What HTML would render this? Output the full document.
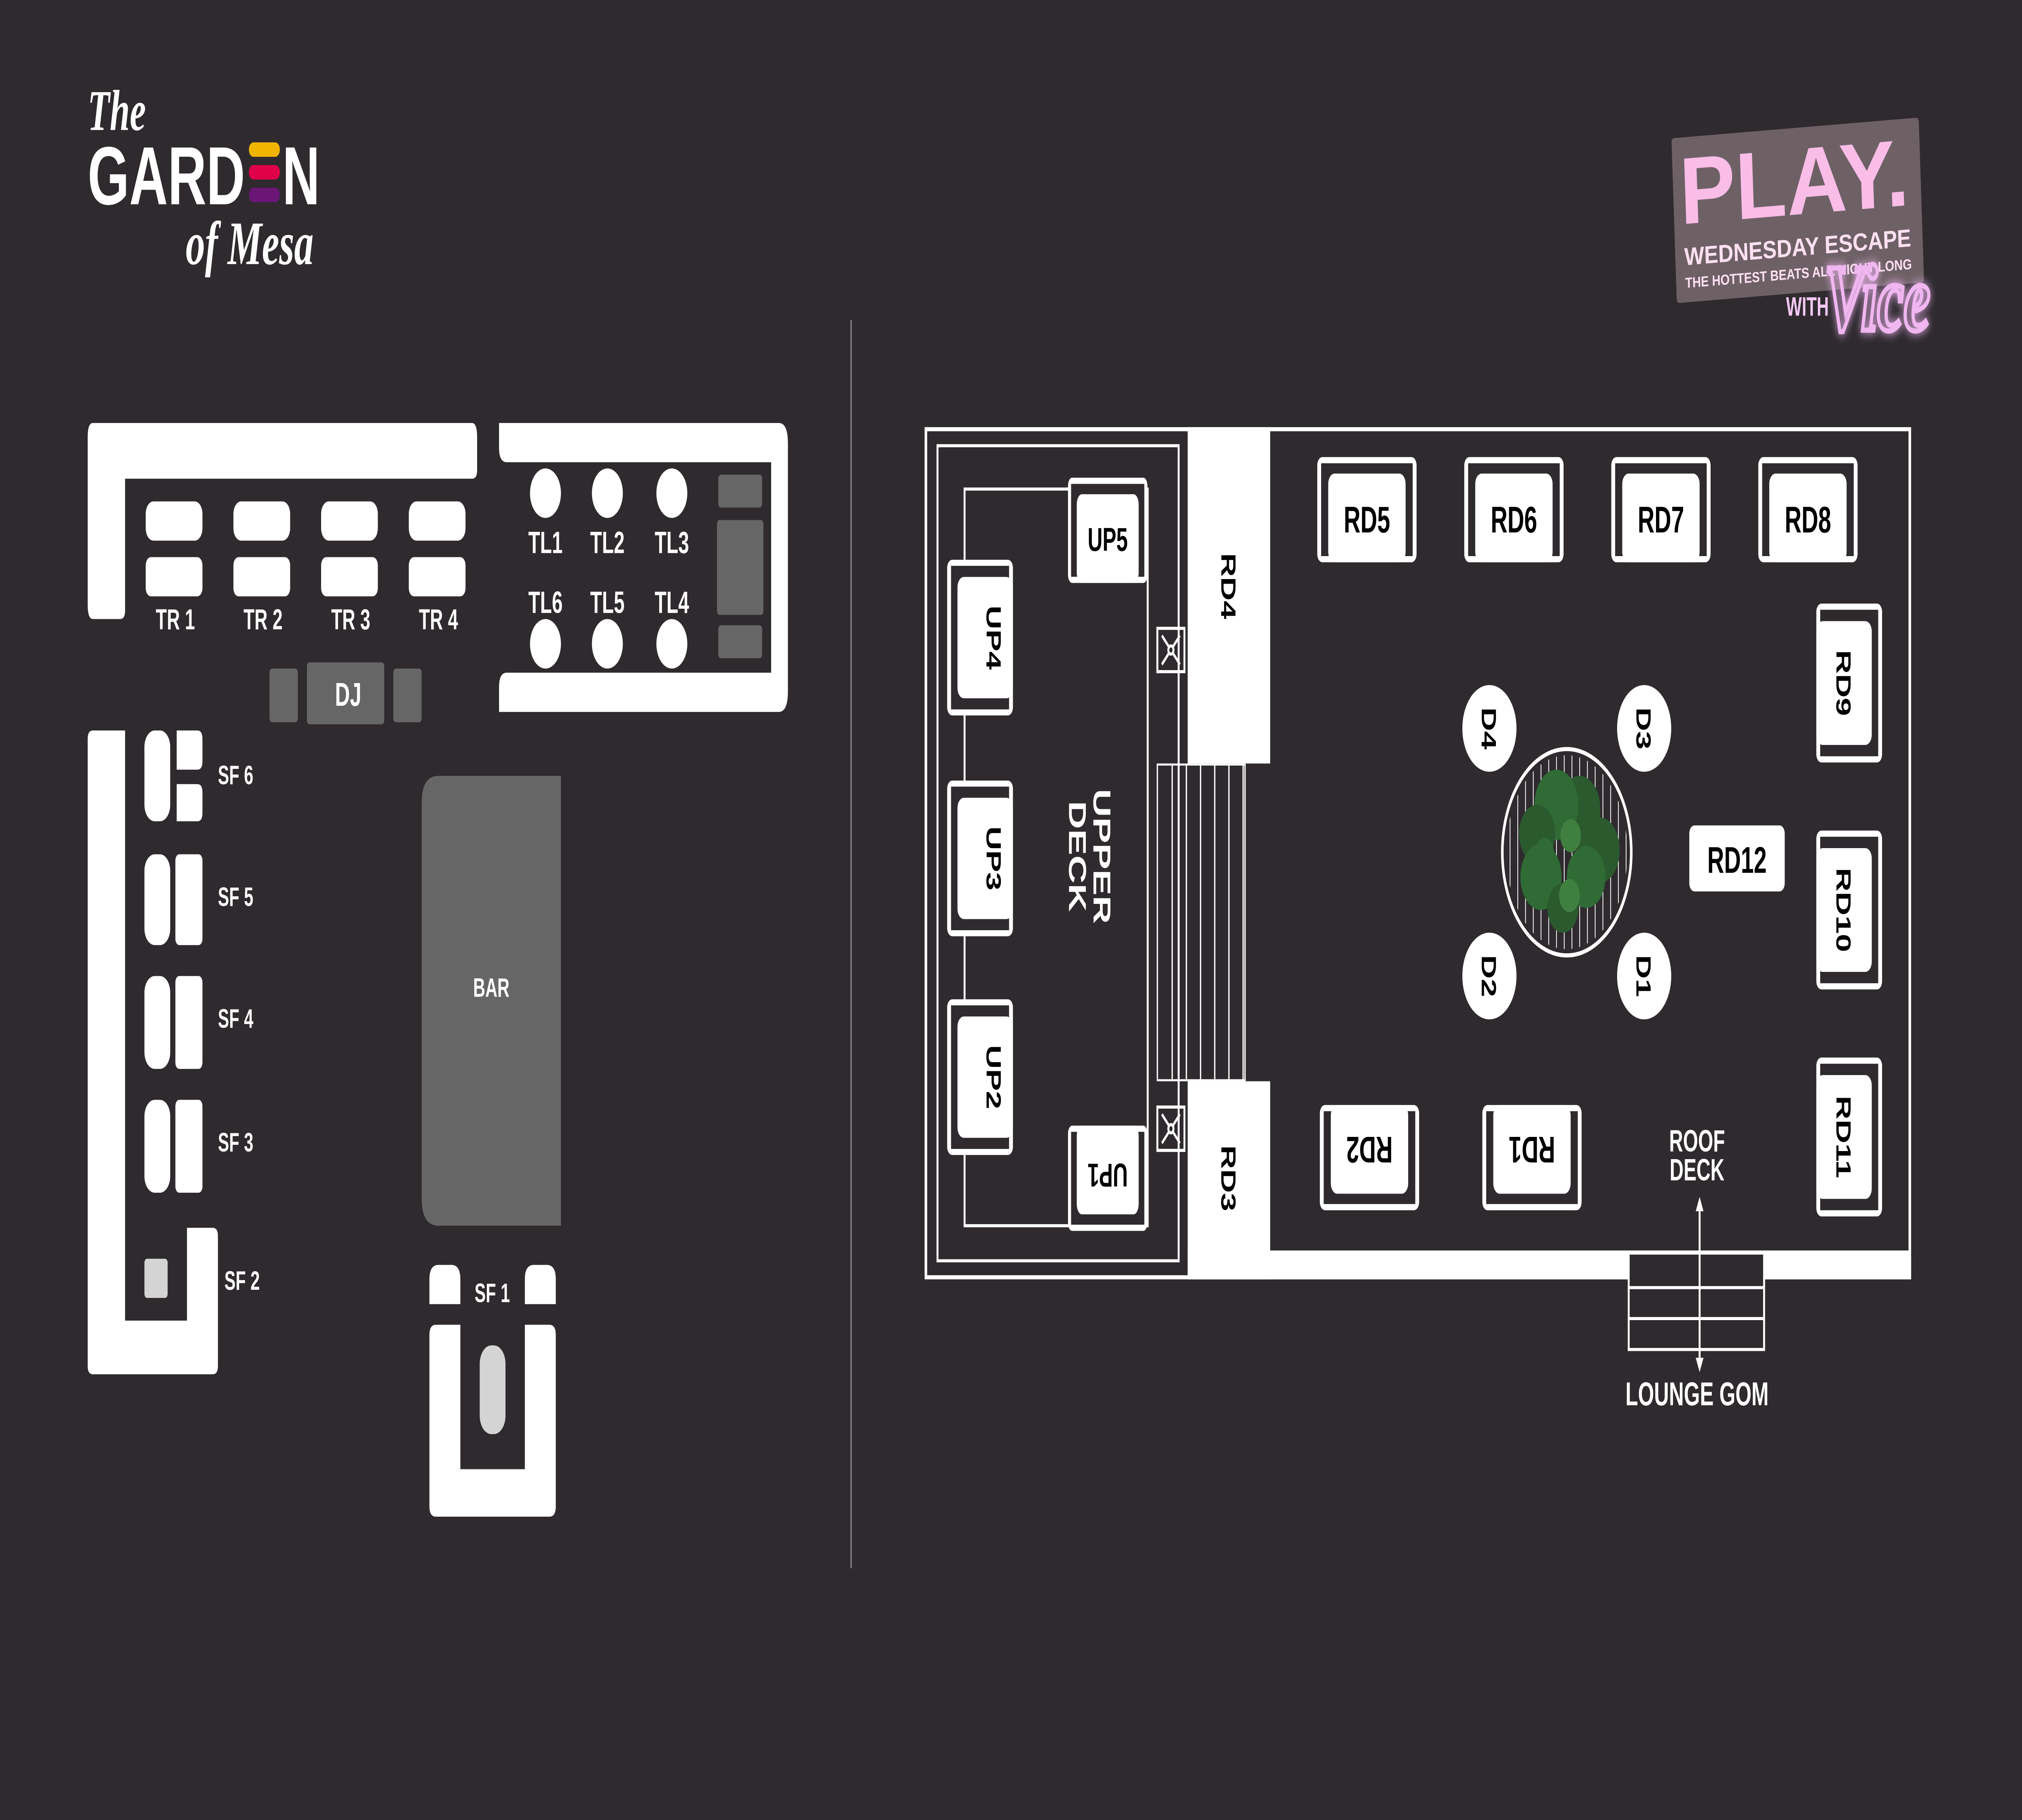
<!DOCTYPE html>
<html><head><meta charset="utf-8"><style>
html,body{margin:0;padding:0;background:#2e2a2e;width:100%;height:100%;overflow:hidden;}
svg{display:block;width:100vw;height:100vh;}
text{font-family:"Liberation Sans Narrow","Liberation Sans",sans-serif;font-weight:bold;}
.w{fill:#fff;}
.k{fill:#000;}
.wide{font-family:"Liberation Sans",sans-serif;}
</style></head><body>
<svg viewBox="0 0 1568 882" preserveAspectRatio="none" xmlns="http://www.w3.org/2000/svg">
<defs>
<g id="seat">
<rect x="-38.5" y="-25.5" width="77" height="51" rx="4" fill="#fff"/>
<rect x="-35.5" y="-22.5" width="71" height="45" fill="#2e2a2e"/>
<rect x="-30" y="-17.5" width="60" height="43" rx="5" fill="#fff"/>
</g>
<clipPath id="treeclip"><circle cx="1215" cy="413" r="47"/></clipPath>
<filter id="glow" x="-30%" y="-30%" width="160%" height="160%"><feGaussianBlur stdDeviation="2.5" result="b"/><feMerge><feMergeNode in="b"/><feMergeNode in="SourceGraphic"/></feMerge></filter>
</defs>
<rect width="1568" height="882" fill="#2e2a2e"/>

<!-- Garden logo -->
<text x="68" y="63" class="w" style="font-family:'Liberation Serif',serif;font-style:italic;font-size:28px">The</text>
<text x="68" y="99" class="w" style="font-family:'Liberation Sans',sans-serif;font-size:40px" textLength="122" lengthAdjust="spacingAndGlyphs">GARD</text>
<rect x="193" y="69" width="24" height="7" rx="3.5" fill="#f0b400"/>
<rect x="193" y="80" width="24" height="7" rx="3.5" fill="#e0004a"/>
<rect x="193" y="91" width="24" height="7" rx="3.5" fill="#6b1577"/>
<text x="219" y="99" class="w" style="font-family:'Liberation Sans',sans-serif;font-size:40px" textLength="29" lengthAdjust="spacingAndGlyphs">N</text>
<text x="144" y="128" class="w" style="font-family:'Liberation Serif',serif;font-style:italic;font-size:30px">of Mesa</text>

<!-- PLAY badge -->
<g transform="rotate(-3 1393 100)">
<rect x="1298" y="62" width="192" height="80" rx="2" fill="#6e6166"/>
<text x="1303" y="104" style="font-family:'Liberation Sans',sans-serif;font-weight:bold;font-size:46px;fill:#f9bde7" textLength="178" lengthAdjust="spacingAndGlyphs">PLAY.</text>
<text x="1305" y="124" style="font-family:'Liberation Sans',sans-serif;font-weight:bold;font-size:12px;fill:#ffe0f2" textLength="176" lengthAdjust="spacingAndGlyphs">WEDNESDAY ESCAPE</text>
<text x="1305" y="135" style="font-family:'Liberation Sans',sans-serif;font-weight:bold;font-size:7px;fill:#ffe0f2" textLength="176" lengthAdjust="spacingAndGlyphs">THE HOTTEST BEATS ALL NIGHT LONG</text>
</g>
<text x="1385" y="153" style="font-size:13px;fill:#f3c8f2">WITH</text>
<text x="1415" y="160" filter="url(#glow)" style="font-family:'Liberation Serif',serif;font-style:italic;font-size:46px;fill:none;stroke:#f0b6f0;stroke-width:2.5">Vice</text>

<!-- Divider -->
<line x1="660" y1="155" x2="660" y2="760" stroke="#8a8589" stroke-width="1"/>

<!-- Left: TR block -->
<path d="M72,205 H366 Q370,205 370,212 V228 Q370,232 366,232 H97 V296 Q97,300 93,300 H72 Q68,300 68,293 V212 Q68,205 72,205 Z" fill="#fff"/>
<g fill="#fff">
<rect x="113" y="243" width="44" height="19" rx="6"/><rect x="113" y="270" width="44" height="19" rx="4"/>
<rect x="181" y="243" width="44" height="19" rx="6"/><rect x="181" y="270" width="44" height="19" rx="4"/>
<rect x="249" y="243" width="44" height="19" rx="6"/><rect x="249" y="270" width="44" height="19" rx="4"/>
<rect x="317" y="243" width="44" height="19" rx="6"/><rect x="317" y="270" width="44" height="19" rx="4"/>
</g>
<g class="w" font-size="14" text-anchor="middle">
<text x="136" y="305">TR 1</text><text x="204" y="305">TR 2</text><text x="272" y="305">TR 3</text><text x="340" y="305">TR 4</text>
</g>
<!-- TL block -->
<path d="M393,205 H604 Q611,205 611,215 V335 Q611,345 604,345 H387 V333 Q387,326 393,326 H598 V224 H393 Q387,224 387,217 V205 Z" fill="#fff"/>
<g fill="#fff">
<ellipse cx="423" cy="239" rx="12" ry="12"/><ellipse cx="471" cy="239" rx="12" ry="12"/><ellipse cx="521" cy="239" rx="12" ry="12"/>
<ellipse cx="423" cy="312" rx="12" ry="12"/><ellipse cx="471" cy="312" rx="12" ry="12"/><ellipse cx="521" cy="312" rx="12" ry="12"/>
</g>
<g class="w" font-size="15" text-anchor="middle">
<text x="423" y="268">TL1</text><text x="471" y="268">TL2</text><text x="521" y="268">TL3</text>
<text x="423" y="297">TL6</text><text x="471" y="297">TL5</text><text x="521" y="297">TL4</text>
</g>
<g fill="#666">
<rect x="557" y="230" width="34" height="16" rx="2"/>
<rect x="556" y="252" width="36" height="46" rx="2"/>
<rect x="557" y="303" width="34" height="16" rx="2"/>
<rect x="209" y="324" width="22" height="26" rx="2"/>
<rect x="238" y="321" width="60" height="30" rx="2"/>
<rect x="305" y="324" width="22" height="26" rx="2"/>
</g>
<text x="270" y="342" class="w" font-size="16" text-anchor="middle">DJ</text>

<!-- SF column -->
<path d="M72,354 H97 V640 H145 V595 H165 Q169,595 169,599 V662 Q169,666 165,666 H72 Q68,666 68,662 V358 Q68,354 72,354 Z" fill="#fff"/>
<g fill="#fff">
<rect x="112" y="354" width="20" height="44" rx="8"/>
<path d="M137,354 H153 Q157,354 157,358 V369 Q157,373 153,373 H137 Z"/>
<path d="M137,380 H153 Q157,380 157,384 V394 Q157,398 153,398 H137 Z"/>
<rect x="112" y="414" width="20" height="44" rx="8"/><rect x="136" y="414" width="21" height="44" rx="3"/>
<rect x="112" y="473" width="20" height="45" rx="8"/><rect x="136" y="473" width="21" height="45" rx="3"/>
<rect x="112" y="533" width="20" height="45" rx="8"/><rect x="136" y="533" width="21" height="45" rx="3"/>
</g>
<rect x="112" y="610" width="18" height="19" rx="2" fill="#d4d4d4"/>
<g class="w wide" font-size="13">
<text x="169" y="380">SF 6</text><text x="169" y="439">SF 5</text><text x="169" y="498">SF 4</text><text x="169" y="558">SF 3</text><text x="174" y="625">SF 2</text>
<text x="368" y="631">SF 1</text>
</g>
<!-- BAR -->
<path d="M340,376 H435 V594 H340 Q327,594 327,581 V389 Q327,376 340,376 Z" fill="#666"/>
<text x="381" y="483" class="w wide" font-size="13" text-anchor="middle">BAR</text>
<!-- SF1 -->
<g fill="#fff">
<path d="M333,632 V620 Q333,613 340,613 H350 Q357,613 357,620 V632 Z"/>
<path d="M407,632 V620 Q407,613 414,613 H424 Q431,613 431,620 V632 Z"/>
<path d="M338,642 H357 V712 H407 V642 H426 Q431,642 431,647 V730 Q431,735 426,735 H338 Q333,735 333,730 V647 Q333,642 338,642 Z"/>
</g>
<rect x="372" y="652" width="20" height="43" rx="9" fill="#d4d4d4"/>

<!-- Right plan -->
<rect x="718" y="208" width="763" height="411" fill="none" stroke="#fff" stroke-width="2"/>
<rect x="727" y="216" width="187" height="395" fill="none" stroke="#fff" stroke-width="1.5"/>
<rect x="748" y="237" width="142" height="357" fill="none" stroke="#fff" stroke-width="1.5"/>
<rect x="921" y="207" width="64" height="163" fill="#fff"/>
<rect x="921" y="524" width="64" height="96" fill="#fff"/>
<rect x="921" y="606" width="561" height="14" fill="#fff"/>
<!-- stairs -->
<g stroke="#fff" stroke-width="1" fill="none">
<rect x="897.5" y="370.5" width="68" height="153"/>
<line x1="909" y1="370" x2="909" y2="524"/><line x1="920" y1="370" x2="920" y2="524"/>
<line x1="931" y1="370" x2="931" y2="524"/><line x1="942" y1="370" x2="942" y2="524"/>
<line x1="953" y1="370" x2="953" y2="524"/><line x1="964" y1="370" x2="964" y2="524"/>
</g>
<!-- crossed boxes -->
<g stroke="#fff" stroke-width="1.5" fill="none">
<rect x="897.5" y="304.5" width="21" height="21"/><path d="M901,308 L915,322 M915,308 L901,322"/><circle cx="908" cy="315" r="2" fill="#2e2a2e"/>
<rect x="897.5" y="536.5" width="21" height="21"/><path d="M901,540 L915,554 M915,540 L901,554"/><circle cx="908" cy="547" r="2" fill="#2e2a2e"/>
</g>
<!-- UP seats -->
<use href="#seat" transform="translate(859,257) scale(0.8,1)"/>
<use href="#seat" transform="translate(760,309) rotate(-90) scale(0.98,1)"/>
<use href="#seat" transform="translate(760,416) rotate(-90) scale(0.98,1)"/>
<use href="#seat" transform="translate(760,522) rotate(-90) scale(0.98,1)"/>
<use href="#seat" transform="translate(859,571) rotate(180) scale(0.8,1)"/>
<g class="k wide" font-size="16" text-anchor="middle">
<text x="859" y="267">UP5</text>
<text transform="translate(765,309) rotate(90)">UP4</text>
<text transform="translate(765,416) rotate(90)">UP3</text>
<text transform="translate(765,522) rotate(90)">UP2</text>
<text transform="translate(859,564) rotate(180)">UP1</text>
<text transform="translate(947,284) rotate(90)">RD4</text>
<text transform="translate(947,571) rotate(90)">RD3</text>
</g>
<text transform="translate(848,415) rotate(90)" class="w wide" font-size="19" text-anchor="middle"><tspan x="0" y="0">UPPER</tspan><tspan x="0" y="19">DECK</tspan></text>

<!-- RD seats -->
<use href="#seat" transform="translate(1060,247)"/>
<use href="#seat" transform="translate(1174,247)"/>
<use href="#seat" transform="translate(1288,247)"/>
<use href="#seat" transform="translate(1402,247)"/>
<use href="#seat" transform="translate(1434,331) rotate(90)"/>
<use href="#seat" transform="translate(1434,441) rotate(90)"/>
<use href="#seat" transform="translate(1434,551) rotate(90)"/>
<use href="#seat" transform="translate(1062,561) rotate(180)"/>
<use href="#seat" transform="translate(1188,561) rotate(180)"/>
<g class="k" font-size="18" text-anchor="middle">
<text x="1060" y="258">RD5</text><text x="1174" y="258">RD6</text><text x="1288" y="258">RD7</text><text x="1402" y="258">RD8</text>
<text transform="translate(1062,551) rotate(180)">RD2</text>
<text transform="translate(1188,551) rotate(180)">RD1</text>
</g>
<g class="k wide" font-size="16" text-anchor="middle">
<text transform="translate(1424,331) rotate(90)">RD9</text>
<text transform="translate(1424,441) rotate(90)">RD10</text>
<text transform="translate(1424,551) rotate(90)">RD11</text>
</g>
<rect x="1310" y="400" width="74" height="32" rx="4" fill="#fff"/>
<text x="1347" y="423" class="k" font-size="18" text-anchor="middle">RD12</text>

<!-- D circles -->
<g fill="#fff">
<ellipse cx="1155" cy="353" rx="21" ry="21"/><ellipse cx="1275" cy="353" rx="21" ry="21"/>
<ellipse cx="1155" cy="473" rx="21" ry="21"/><ellipse cx="1275" cy="473" rx="21" ry="21"/>
</g>
<g class="k wide" font-size="16" text-anchor="middle">
<text transform="translate(1149,353) rotate(90)">D4</text>
<text transform="translate(1269,353) rotate(90)">D3</text>
<text transform="translate(1149,473) rotate(90)">D2</text>
<text transform="translate(1269,473) rotate(90)">D1</text>
</g>
<!-- tree -->
<circle cx="1215" cy="413" r="50" fill="none" stroke="#fff" stroke-width="2"/>
<g clip-path="url(#treeclip)" stroke="#fff" stroke-width="0.6">
<line x1="1171" y1="360" x2="1171" y2="466"/><line x1="1177" y1="360" x2="1177" y2="466"/><line x1="1183" y1="360" x2="1183" y2="466"/>
<line x1="1189" y1="360" x2="1189" y2="466"/><line x1="1195" y1="360" x2="1195" y2="466"/><line x1="1201" y1="360" x2="1201" y2="466"/>
<line x1="1207" y1="360" x2="1207" y2="466"/><line x1="1213" y1="360" x2="1213" y2="466"/><line x1="1219" y1="360" x2="1219" y2="466"/>
<line x1="1225" y1="360" x2="1225" y2="466"/><line x1="1231" y1="360" x2="1231" y2="466"/><line x1="1237" y1="360" x2="1237" y2="466"/>
<line x1="1243" y1="360" x2="1243" y2="466"/><line x1="1249" y1="360" x2="1249" y2="466"/><line x1="1255" y1="360" x2="1255" y2="466"/>
<line x1="1261" y1="360" x2="1261" y2="466"/>
</g>
<g>
<circle cx="1225" cy="392" r="16" fill="#2a5a2e"/>
<circle cx="1207" cy="390" r="17" fill="#306b35"/>
<circle cx="1192" cy="404" r="14" fill="#2a5a2e"/>
<circle cx="1240" cy="412" r="16" fill="#2a5a2e"/>
<circle cx="1195" cy="425" r="16" fill="#306b35"/>
<circle cx="1230" cy="425" r="15" fill="#306b35"/>
<circle cx="1212" cy="440" r="12" fill="#2a5a2e"/>
<circle cx="1218" cy="405" r="8" fill="#3f8040"/>
<circle cx="1217" cy="434" r="8" fill="#3f8040"/>
<circle cx="1198" cy="413" r="7" fill="#306b35"/>
</g>

<!-- Roof deck / stairs to lounge -->
<text x="1316" y="558" class="w" font-size="15" text-anchor="middle">ROOF</text>
<text x="1316" y="572" class="w" font-size="15" text-anchor="middle">DECK</text>
<rect x="1263" y="608" width="105" height="16" fill="#2e2a2e"/>
<g stroke="#fff" stroke-width="1.5" fill="none">
<path d="M1263,608 V654 H1368 V608"/>
<line x1="1263" y1="624" x2="1368" y2="624"/>
<line x1="1263" y1="639" x2="1368" y2="639"/>
<line x1="1318" y1="584" x2="1318" y2="662"/>
</g>
<path d="M1318,580 L1315,587 L1321,587 Z M1318,665 L1315,658 L1321,658 Z" fill="#fff"/>
<text x="1316" y="681" class="w" font-size="16" text-anchor="middle">LOUNGE GOM</text>
</svg>
</body></html>
